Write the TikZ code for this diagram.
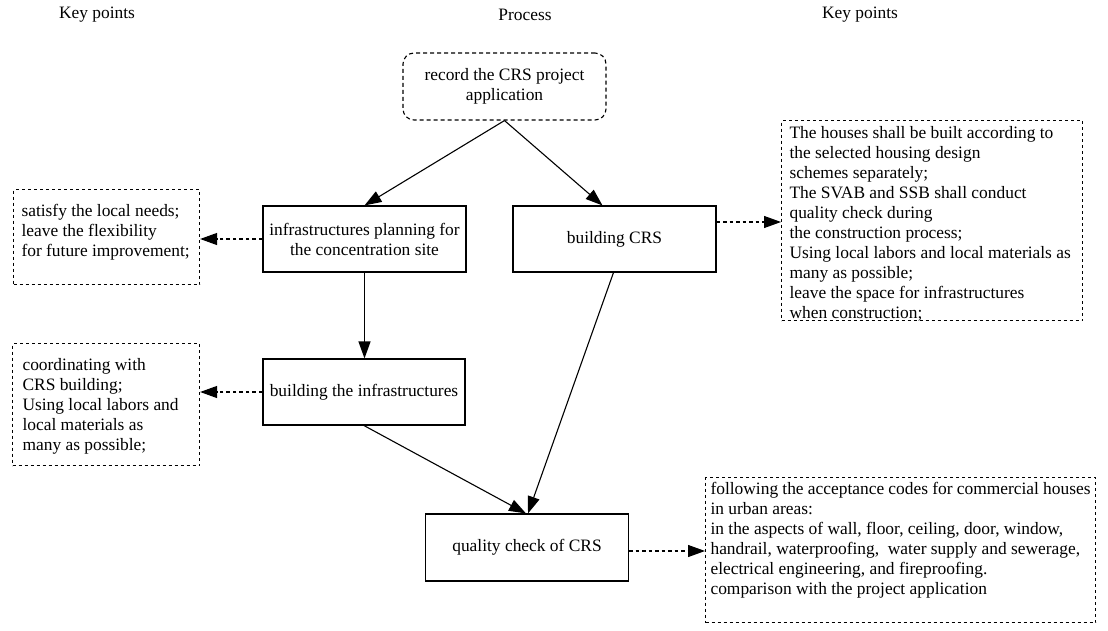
\documentclass[tikz,border=0pt]{standalone}
\usepackage{fontspec}
\setmainfont{Liberation Serif}
\usetikzlibrary{arrows.meta}

% text block for a note box: width, height, top gap, lines
\newcommand{\notelines}[4]{\parbox[c][#2][t]{#1}{\raggedright\vspace*{#3}#4}}

\begin{document}
\begin{tikzpicture}[x=1pt,y=-1pt,
  font=\fontsize{17.4}{20}\selectfont,
  every node/.style={inner sep=0pt},
  procbox/.style={draw, line width=1.1pt, minimum width=203pt, minimum height=66pt, align=center},
  startbox/.style={procbox, dash pattern=on 4pt off 3pt, rounded corners=11pt, minimum height=67pt},
  notebox/.style={draw, line width=1.1pt, dash pattern=on 3pt off 3pt, anchor=north west},
  flow/.style={-{Triangle[length=17pt,width=12pt]}, line width=1.1pt},
  hint/.style={flow, dash pattern=on 3.5pt off 3pt},
  header/.style={anchor=center}]
\useasboundingbox (0,0) rectangle (1108,631);

% column headers
\node[header] (h1) at (97,15) {Key points};
\node[header] (h2) at (525,15) {Process};
\node[header] (h3) at (860,15) {Key points};

% process steps
\node[startbox] (rec) at (504.5,86.5) {record the CRS project\\application};
\node[procbox] (plan) at (364.5,239) {infrastructures planning for\\the concentration site};
\node[procbox] (crs) at (614.5,239) {building CRS};
\node[procbox, minimum width=202pt] (infra) at (364,392) {building the infrastructures};
\node[procbox, minimum height=67pt] (qual) at (527,547.5) {quality check of CRS};

% key point notes
\node[notebox, inner xsep=8pt] (kp1) at (13,189)
  {\notelines{170pt}{95pt}{15pt}{satisfy the local needs;\\leave the flexibility\\for future improvement;}};
\node[notebox, inner xsep=10pt] (kp2) at (12,343)
  {\notelines{167pt}{122pt}{15pt}{coordinating with\\CRS building;\\Using local labors and\\local materials as\\many as possible;}};
\node[notebox, inner xsep=8pt] (kp3) at (781,120)
  {\notelines{285pt}{200pt}{6pt}{The houses shall be built according to\\the selected housing design\\schemes separately;\\The SVAB and SSB shall conduct\\quality check during\\the construction process;\\Using local labors and local materials as\\many as possible;\\leave the space for infrastructures\\when construction;}};
\node[notebox, inner xsep=5pt] (kp4) at (705,477)
  {\notelines{380pt}{145pt}{5pt}{following the acceptance codes for commercial houses\\in urban areas:\\in the aspects of wall, floor, ceiling, door, window,\\handrail, waterproofing,~ water supply and sewerage,\\electrical engineering, and fireproofing.\\comparison with the project application}};

% process flow
\draw[flow] (rec.south) -- (plan.north);
\draw[flow] (rec.south) -- ([xshift=-12pt]crs.north);
\draw[flow] (plan.south) -- (plan.south |- infra.north);
\draw[flow] (infra.south) -- ([xshift=-1pt]qual.north);
\draw[flow] ([xshift=-1pt]crs.south) -- ([xshift=1pt]qual.north);

% links to key points
\draw[hint] (plan.west) -- (plan.west -| kp1.east);
\draw[hint] ([yshift=17pt]crs.east) -- ([yshift=17pt]crs.east -| kp3.west);
\draw[hint] (infra.west) -- (infra.west -| kp2.east);
\draw[hint] ([yshift=-3.5pt]qual.east) -- ([yshift=-3.5pt]qual.east -| kp4.west);
\end{tikzpicture}
\end{document}
